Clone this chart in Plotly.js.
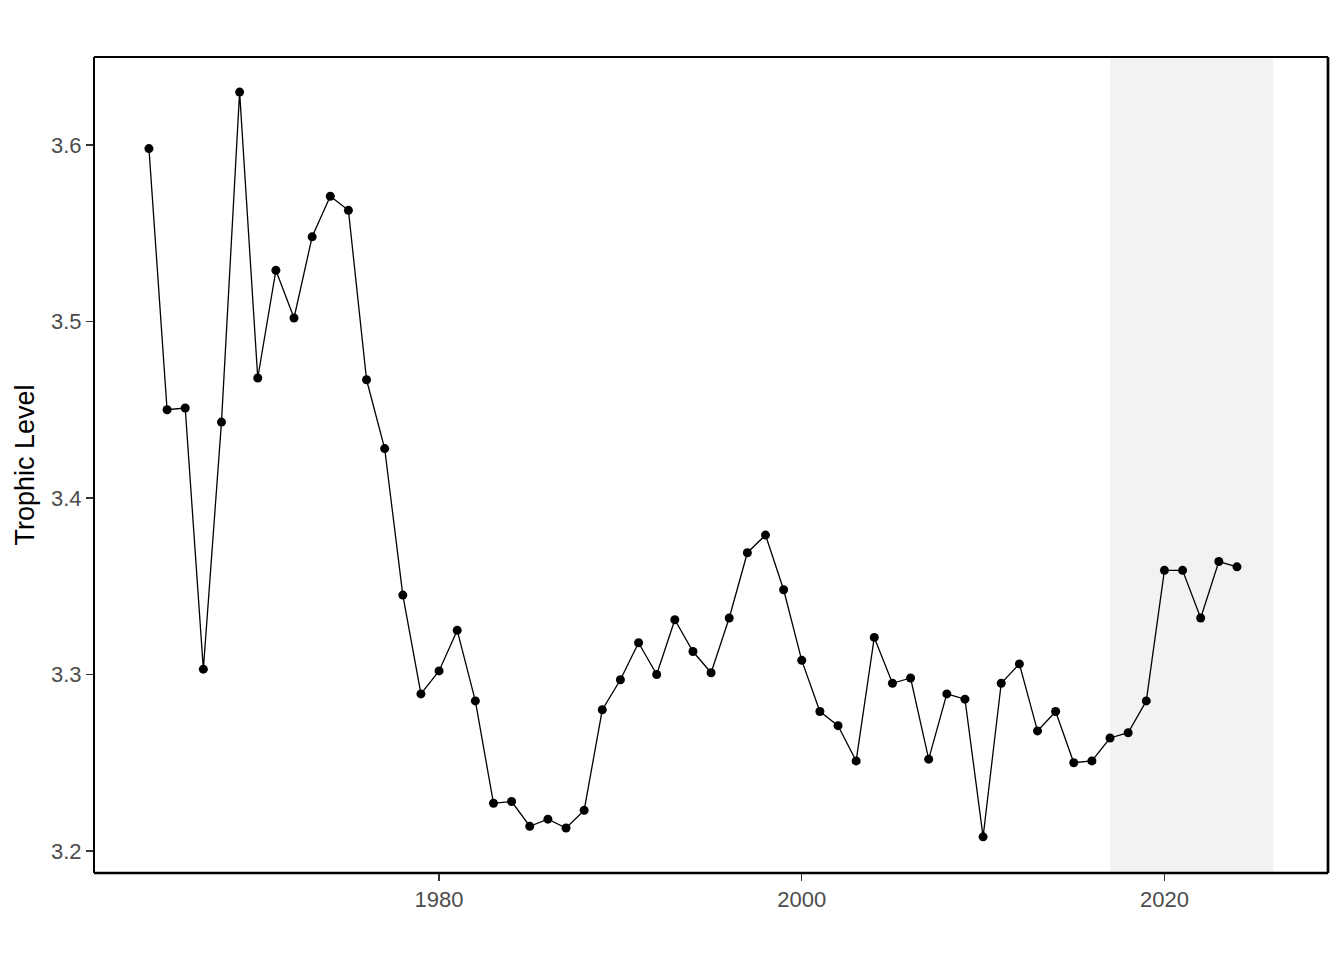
<!DOCTYPE html>
<html>
<head>
<meta charset="utf-8">
<script src="https://cdn.plot.ly/plotly-3.0.1.min.js"></script>
<style>
  html, body { margin: 0; padding: 0; background: #ffffff; }
  #chart { width: 1344px; height: 960px; }
</style>
</head>
<body>
<div id="chart"></div>
<script>
const years = [1964,1965,1966,1967,1968,1969,1970,1971,1972,1973,1974,1975,1976,1977,1978,1979,1980,
  1981,1982,1983,1984,1985,1986,1987,1988,1989,1990,1991,1992,1993,1994,1995,1996,1997,1998,1999,2000,
  2001,2002,2003,2004,2005,2006,2007,2008,2009,2010,2011,2012,2013,2014,2015,2016,2017,2018,2019,2020,
  2021,2022,2023,2024];
const trophicLevel = [3.598,3.450,3.451,3.303,3.443,3.630,3.468,3.529,3.502,3.548,3.571,3.563,3.467,3.428,3.345,3.289,3.302,
  3.325,3.285,3.227,3.228,3.214,3.218,3.213,3.223,3.280,3.297,3.318,3.300,3.331,3.313,3.301,3.332,3.369,3.379,3.348,3.308,
  3.279,3.271,3.251,3.321,3.295,3.298,3.252,3.289,3.286,3.208,3.295,3.306,3.268,3.279,3.250,3.251,3.264,3.267,3.285,3.359,
  3.359,3.332,3.364,3.361];
const shadeStart = 2017;
const shadeEnd = 2026;
const xTicks = [1980, 2000, 2020];
const yTicks = [3.2, 3.3, 3.4, 3.5, 3.6];

const trace = {
  x: years,
  y: trophicLevel,
  type: 'scatter',
  mode: 'lines+markers',
  line: { color: '#000000', width: 1.3 },
  marker: { color: '#000000', size: 9 },
  hoverinfo: 'x+y',
  showlegend: false
};

const fontFam = '"Liberation Sans", Arial, sans-serif';

const layout = {
  width: 1344,
  height: 960,
  margin: { l: 94, r: 16, t: 57, b: 87, pad: 0 },
  paper_bgcolor: '#ffffff',
  plot_bgcolor: '#ffffff',
  showlegend: false,
  xaxis: {
    range: [1960.97, 2029.02],
    tickvals: xTicks,
    ticktext: xTicks.map(String),
    ticks: 'outside',
    ticklen: 7,
    tickwidth: 1.3,
    tickcolor: '#333333',
    showgrid: false,
    zeroline: false,
    showline: false,
    tickfont: { family: fontFam, size: 22, color: '#4D4D4D' }
  },
  yaxis: {
    range: [3.1875, 3.6499],
    tickvals: yTicks,
    ticktext: yTicks.map(v => v.toFixed(1)),
    ticks: 'outside',
    ticklen: 7,
    tickwidth: 1.3,
    tickcolor: '#333333',
    showgrid: false,
    zeroline: false,
    showline: false,
    tickfont: { family: fontFam, size: 22, color: '#4D4D4D' },
    title: { text: 'Trophic Level', font: { family: fontFam, size: 27, color: '#000000' }, standoff: 8 }
  },
  shapes: [
    { type: 'rect', xref: 'x', yref: 'paper', x0: shadeStart, x1: shadeEnd, y0: 0, y1: 1,
      fillcolor: '#F2F2F2', line: { width: 0 }, layer: 'below' },
    { type: 'line', xref: 'paper', yref: 'paper', x0: 0, x1: 1, y0: 1, y1: 1, line: { color: '#000000', width: 2 } },
    { type: 'line', xref: 'paper', yref: 'paper', x0: 0, x1: 0, y0: 0, y1: 1, line: { color: '#000000', width: 2 } },
    { type: 'line', xref: 'paper', yref: 'paper', x0: 0, x1: 1, y0: 0, y1: 0, line: { color: '#000000', width: 2.7 } },
    { type: 'line', xref: 'paper', yref: 'paper', x0: 1, x1: 1, y0: 0, y1: 1, line: { color: '#000000', width: 2.7 } }
  ]
};

Plotly.newPlot('chart', [trace], layout, { displayModeBar: false, staticPlot: true });
</script>
</body>
</html>
